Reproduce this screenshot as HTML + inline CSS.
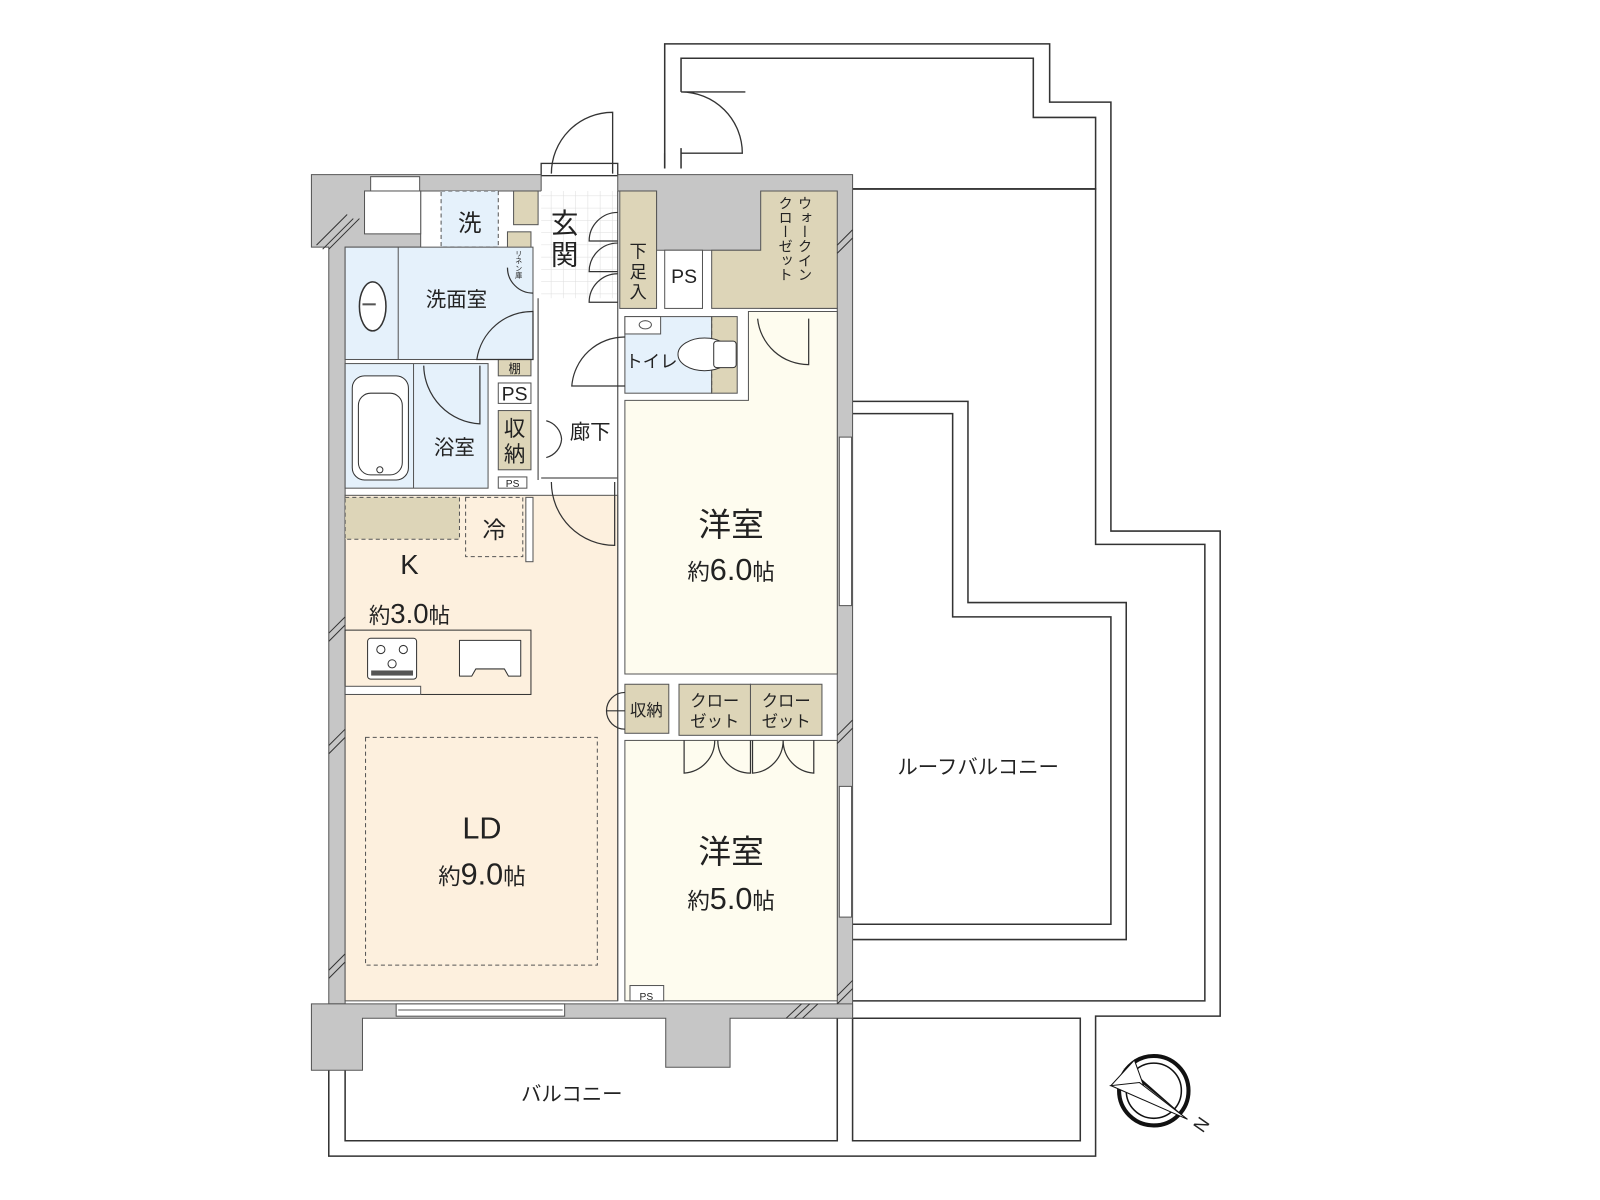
<!DOCTYPE html>
<html><head><meta charset="utf-8"><style>
html,body{margin:0;padding:0;background:#fff;}
svg{display:block;}
text{font-family:"Liberation Sans","Noto Sans CJK JP",sans-serif;fill:#222;}
</style></head><body>
<svg width="1600" height="1200" viewBox="0 0 1567 1175" preserveAspectRatio="none" xmlns="http://www.w3.org/2000/svg">
<defs>
<pattern id="tile" width="12" height="12" patternUnits="userSpaceOnUse"><rect width="12" height="12" fill="#fff"/><path d="M12 0V12H0" fill="none" stroke="#ddd" stroke-width="1"/></pattern>
</defs>
<g fill="none" stroke="#333" stroke-width="1.5">
<path d="M651 165V43H1028V100H1088V520H1195V995H1073V1132H322V997"/>
<path d="M667 90V57H1012V115H1073V185H835"/>
<path d="M835 185H1073V533H1180V980H835"/>
<path d="M835 393H948V590H1103V920H835"/>
<path d="M835 405H933V604H1088V905H835"/>
<path d="M338 1045V1117H820V997"/>
<path d="M835 997V1117H1058V997H835"/>
<path d="M651 150V165M667 145V165"/>
</g>
<g fill="none" stroke="#333" stroke-width="1.3">
<path d="M667 90H730M667 150H727A60 60 0 0 0 667 90"/>
<path d="M540 170A60 60 0 0 1 600 110V170"/>
<rect x="530" y="160" width="75" height="12"/>
</g>
<g fill="#c6c6c6" stroke="#555" stroke-width="1">
<path d="M305 171H530V187H412V242H338V983H322V242H305Z"/>
<path d="M605 171H835V995H820V302H745V245H643V187H605Z"/>
<path d="M305 983H835V997H715V1045H652V997H355V1048H305Z"/>
</g>
<rect x="357" y="187" width="55" height="42" fill="#fff" stroke="#555"/>
<rect x="363" y="173" width="48" height="14" fill="#fff" stroke="#555"/>
<g stroke="#555" stroke-width="1">
<rect x="432" y="187" width="56" height="55" fill="#e5f1fb" stroke-dasharray="4 3"/>
<rect x="503" y="187" width="24" height="33" fill="#ddd5b8"/>
<rect x="497" y="227" width="23" height="35" fill="#ddd5b8"/>
<rect x="530" y="187" width="75" height="105" fill="url(#tile)" stroke="none"/>
<rect x="338" y="242" width="184" height="110" fill="#e5f1fb"/>
<line x1="390" y1="242" x2="390" y2="352"/>
<ellipse cx="365" cy="300" rx="13" ry="24" fill="#fff" stroke="#333" stroke-width="1.5"/>
<line x1="355" y1="298" x2="368" y2="298" stroke-width="2"/>
<rect x="338" y="356" width="140" height="122" fill="#e5f1fb"/>
<line x1="405" y1="356" x2="405" y2="478"/>
<rect x="345" y="368" width="55" height="102" rx="12" fill="#fff" stroke="#333"/>
<rect x="351" y="385" width="43" height="80" rx="12" fill="none" stroke="#333"/>
<circle cx="372" cy="460" r="3" fill="none" stroke="#333"/>
<rect x="488" y="352" width="32" height="16" fill="#ddd5b8"/>
<rect x="488" y="375" width="32" height="20" fill="#fff"/>
<rect x="488" y="402" width="32" height="58" fill="#ddd5b8"/>
<rect x="488" y="467" width="28" height="11" fill="#fff"/>
<rect x="607" y="187" width="36" height="115" fill="#ddd5b8"/>
<rect x="651" y="245" width="37" height="57" fill="#fff"/>
<path d="M697 302V245H745V187H820V302Z" fill="#ddd5b8"/>
<rect x="612" y="310" width="85" height="75" fill="#e5f1fb"/>
<rect x="697" y="310" width="25" height="75" fill="#ddd5b8"/>
<line x1="697" y1="310" x2="697" y2="385" stroke-dasharray="4 3"/>
<rect x="612" y="310" width="35" height="17" fill="#fff"/>
<ellipse cx="632" cy="318" rx="6" ry="4" fill="none"/>
<ellipse cx="690" cy="347" rx="26" ry="16" fill="#fff" stroke="#333"/>
<rect x="699" y="334" width="22" height="26" rx="3" fill="#fff" stroke="#333"/>
<path d="M733 305H820V660H612V392H733Z" fill="#fefcef"/>
<rect x="338" y="485" width="267" height="495" fill="#fdf0de"/>
<rect x="338" y="487" width="112" height="41" fill="#ddd5b8" stroke-dasharray="4 3"/>
<rect x="456" y="487" width="56" height="58" fill="#fdf0de" stroke-dasharray="4 3"/>
<rect x="515" y="487" width="7" height="63" fill="#fff"/>
<rect x="338" y="617" width="182" height="63" fill="#fdf0de" stroke="#333"/>
<rect x="360" y="625" width="48" height="40" rx="3" fill="#fff" stroke="#333"/>
<circle cx="373" cy="636" r="4" fill="none" stroke="#333"/><circle cx="395" cy="636" r="4" fill="none" stroke="#333"/><circle cx="384" cy="650" r="4" fill="none" stroke="#333"/>
<rect x="364" y="657" width="40" height="4" fill="#555"/>
<path d="M450 627H510V662H498L494 655H466L462 662H450Z" fill="#fff" stroke="#333" stroke-linejoin="round"/>
<rect x="338" y="672" width="74" height="8" fill="#fff"/>
<rect x="358" y="722" width="227" height="223" fill="none" stroke-dasharray="4 3"/>
<rect x="612" y="670" width="43" height="48" fill="#ddd5b8"/>
<rect x="665" y="670" width="70" height="50" fill="#ddd5b8"/>
<rect x="735" y="670" width="70" height="50" fill="#ddd5b8"/>
<rect x="612" y="725" width="208" height="255" fill="#fefcef"/>
<rect x="617" y="965" width="33" height="15" fill="#fff"/>
<rect x="388" y="983" width="165" height="12" fill="#fff"/>
<line x1="390" y1="989" x2="551" y2="989"/>
<rect x="822" y="428" width="12" height="165" fill="#fff"/>
<rect x="822" y="770" width="12" height="128" fill="#fff"/>
</g>
<g stroke="#555" fill="none" stroke-width="1.2">
<line x1="605" y1="187" x2="605" y2="980"/>
<line x1="527" y1="292" x2="527" y2="470"/>
<line x1="530" y1="468" x2="605" y2="468"/>
</g>
<g fill="none" stroke="#333" stroke-width="1.2">
<path d="M605 208A28 28 0 0 0 577 236H605"/>
<path d="M605 238A28 28 0 0 0 577 266H605"/>
<path d="M605 268A28 28 0 0 0 577 296H605"/>
<path d="M522 305A55 55 0 0 0 467 352H522Z"/>
<path d="M497 262A25 25 0 0 0 522 287"/>
<path d="M612 330A52 52 0 0 0 560 378H612"/>
<path d="M415 358A58 58 0 0 0 470 415V358"/>
<path d="M535 412A20 20 0 0 1 550 430M535 448A20 20 0 0 0 550 430"/>
<path d="M540 472A62 62 0 0 0 602 534V472"/>
<path d="M742 312A50 50 0 0 0 792 357V312"/>
<path d="M612 678A18 18 0 0 0 594 696H612M612 714A18 18 0 0 1 594 696"/>
<path d="M670 725V757A32 32 0 0 0 700 725M735 725V757A32 32 0 0 1 703 725"/>
<path d="M737 725V757A32 32 0 0 0 767 725M797 725V757A32 32 0 0 1 767 725"/>
</g>
<g stroke="#333" stroke-width="1">
<path d="M310 240L340 210M316 244L346 214M322 244L352 214"/>
<path d="M322 620L338 604M322 628L338 612M322 730L338 714M322 738L338 722M322 950L338 934M322 958L338 942"/>
<path d="M820 240L835 225M820 248L835 233M820 720L835 705M820 728L835 713M820 975L835 960M820 983L835 968"/>
<path d="M770 997L785 983M778 997L793 983M786 997L801 983"/>
</g>
<g transform="translate(1130,1068)">
<circle r="34" fill="none" stroke="#111" stroke-width="4"/>
<circle r="27" fill="none" stroke="#111" stroke-width="1.5"/>
<path d="M-30 -22L33 28L-16 -15Z" fill="#111"/>
<path d="M-19 -30L-10 -5L-42 -5Z" fill="#fff" stroke="#111"/>
<path d="M-42 -5L33 28L-14 -8Z" fill="#fff" stroke="#111"/>
<text x="48" y="42" font-size="18" font-family="Liberation Serif,serif" transform="rotate(-55 48 42)">N</text>
</g>
<g>
<text x="460" y="226" font-size="23" text-anchor="middle">洗</text>
<text x="508" y="245" font-size="7" writing-mode="tb">リネン庫</text>
<text x="553" y="228" font-size="27" text-anchor="middle">玄</text>
<text x="553" y="259" font-size="27" text-anchor="middle">関</text>
<text x="625" y="252" font-size="17" text-anchor="middle">下</text>
<text x="625" y="272" font-size="17" text-anchor="middle">足</text>
<text x="625" y="292" font-size="17" text-anchor="middle">入</text>
<text x="670" y="277" font-size="19" text-anchor="middle">PS</text>
<text x="768" y="192" font-size="14" writing-mode="tb">クローゼット</text>
<text x="787" y="192" font-size="14" writing-mode="tb">ウォークイン</text>
<text x="447" y="300" font-size="20" text-anchor="middle">洗面室</text>
<text x="504" y="365" font-size="12" text-anchor="middle">棚</text>
<text x="504" y="392" font-size="19" text-anchor="middle">PS</text>
<text x="504" y="427" font-size="21" text-anchor="middle">収</text>
<text x="504" y="452" font-size="21" text-anchor="middle">納</text>
<text x="502" y="477" font-size="10" text-anchor="middle">PS</text>
<text x="445" y="445" font-size="20" text-anchor="middle">浴室</text>
<text x="578" y="430" font-size="20" text-anchor="middle">廊下</text>
<text x="638" y="360" font-size="17" text-anchor="middle">トイレ</text>
<text x="716" y="525" font-size="32" text-anchor="middle">洋室</text>
<text x="716" y="568" font-size="30" text-anchor="middle"><tspan font-size="22">約</tspan>6.0<tspan font-size="22">帖</tspan></text>
<text x="484" y="527" font-size="23" text-anchor="middle">冷</text>
<text x="401" y="562" font-size="27" text-anchor="middle">K</text>
<text x="401" y="610" font-size="27" text-anchor="middle"><tspan font-size="21">約</tspan>3.0<tspan font-size="21">帖</tspan></text>
<text x="633" y="701" font-size="16" text-anchor="middle">収納</text>
<text x="700" y="692" font-size="16" text-anchor="middle">クロー</text>
<text x="700" y="712" font-size="16" text-anchor="middle">ゼット</text>
<text x="770" y="692" font-size="16" text-anchor="middle">クロー</text>
<text x="770" y="712" font-size="16" text-anchor="middle">ゼット</text>
<text x="472" y="821" font-size="30" text-anchor="middle">LD</text>
<text x="472" y="866" font-size="30" text-anchor="middle"><tspan font-size="22">約</tspan>9.0<tspan font-size="22">帖</tspan></text>
<text x="716" y="845" font-size="32" text-anchor="middle">洋室</text>
<text x="716" y="890" font-size="30" text-anchor="middle"><tspan font-size="22">約</tspan>5.0<tspan font-size="22">帖</tspan></text>
<text x="633" y="979" font-size="10" text-anchor="middle">PS</text>
<text x="958" y="758" font-size="20" text-anchor="middle">ルーフバルコニー</text>
<text x="560" y="1078" font-size="20" text-anchor="middle">バルコニー</text>
</g>
</svg>
</body></html>
